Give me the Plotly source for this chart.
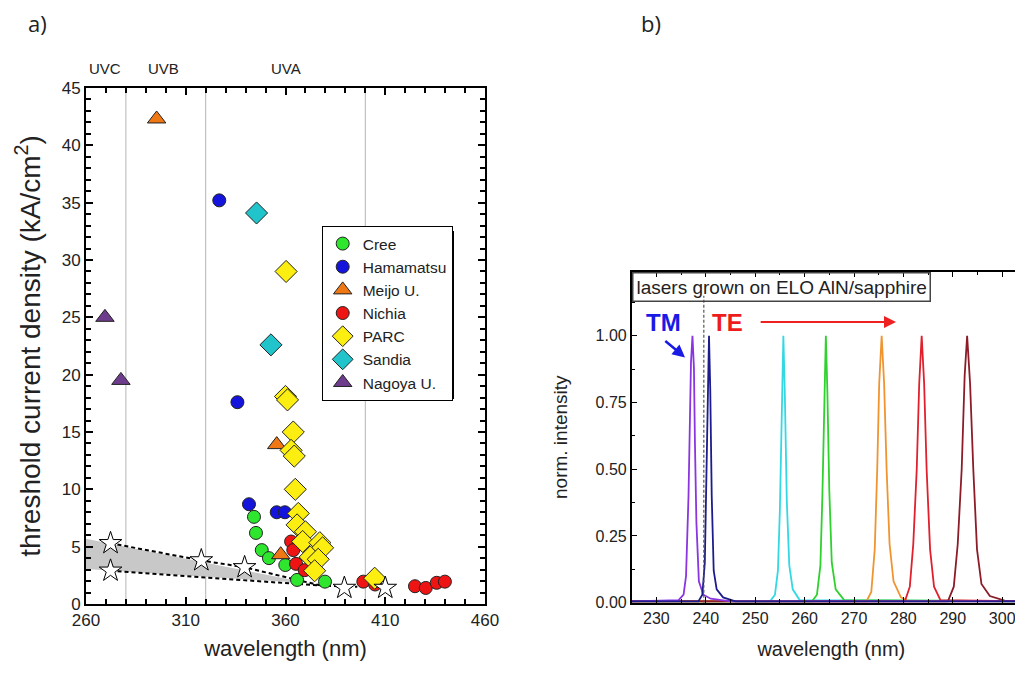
import plotly.graph_objects as go

FIG_W, FIG_H = 1023, 675
PAGE_PAD = 8  # the html body margin offsets the figure on the page
FONT = 'Liberation Sans, Arial, sans-serif'

# ---------------- panel a) threshold current density vs wavelength ----------------
cree_wl = [344.2, 345.2, 348.1, 351.7, 359.9, 365.8, 379.8]
cree_j = [7.6, 6.2, 4.7, 4.0, 3.4, 2.1, 1.95]

hamamatsu_wl = [326.8, 335.9, 341.7, 355.6, 359.7]
hamamatsu_j = [35.2, 17.6, 8.7, 8.0, 8.0]

meijo_wl = [295.4, 355.6, 357.6]
meijo_j = [42.3, 13.9, 4.3]

nichia_wl = [362.8, 363.9, 365.3, 369.6, 399.0, 404.9, 424.9, 430.3, 435.8, 439.9]
nichia_j = [5.45, 4.7, 3.5, 2.95, 1.95, 1.7, 1.55, 1.4, 1.85, 1.95]

parc_wl = [360.3, 360.0, 361.0, 363.9, 362.8, 364.4, 364.9, 366.4, 365.8, 370.0,
           368.6, 377.2, 378.6, 372.4, 376.4, 374.6, 404.7]
parc_j = [29.0, 18.1, 17.8, 15.0, 13.4, 12.9, 10.0, 7.9, 6.9, 6.3,
          5.45, 5.35, 4.9, 4.1, 3.9, 2.9, 2.25]

sandia_wl = [345.5, 352.7]
sandia_j = [34.1, 22.6]

nagoya_wl = [269.5, 277.5]
nagoya_j = [25.0, 19.5]

star_wl = [272.3, 272.3, 317.8, 339.5, 389.5, 410.0]
star_j = [5.3, 2.9, 3.8, 3.2, 1.4, 1.4]

trend_hi_wl = [272.3, 317.8, 339.5, 378.0]
trend_hi_j = [5.3, 3.8, 3.2, 1.6]
trend_lo_wl = [272.3, 378.0, 396.0]
trend_lo_j = [2.9, 1.6, 1.5]

band_wl = [260, 372, 260]
band_j = [5.7, 1.8, 3.05]

uv_edges = [280, 320, 400]
uv_names = ['UVC', 'UVB', 'UVA']
uv_label_wl = [269.3, 299.0, 360.0]

groups = [
    ('Cree', cree_wl, cree_j, 'circle', '#2ee62e', 13),
    ('Hamamatsu', hamamatsu_wl, hamamatsu_j, 'circle', '#1414dc', 13),
    ('Meijo U.', meijo_wl, meijo_j, 'triangle-up', '#f07814', 16),
    ('Nichia', nichia_wl, nichia_j, 'circle', '#ee1414', 13),
    ('PARC', parc_wl, parc_j, 'diamond', '#fbee10', 17),
    ('Sandia', sandia_wl, sandia_j, 'diamond', '#22c4cc', 17),
    ('Nagoya U.', nagoya_wl, nagoya_j, 'triangle-up', '#6e3c8c', 16),
]

# ---------------- panel b) normalised laser spectra ----------------
tm_wl = [225, 234.5, 235.5, 236.0, 236.5, 236.8, 237.0, 237.3, 237.6, 237.8, 238.1, 238.6, 239.5, 241, 245, 306]
tm_int = [0.005, 0.01, 0.03, 0.1, 0.4, 0.7, 0.9, 1.0, 0.88, 0.6, 0.3, 0.08, 0.03, 0.015, 0.005, 0.005]

te240_wl = [225, 238.5, 239.3, 239.8, 240.2, 240.5, 240.65, 240.9, 241.2, 241.6, 242.2, 243.5, 246, 306]
te240_int = [0.005, 0.005, 0.03, 0.15, 0.55, 0.9, 1.0, 0.8, 0.4, 0.12, 0.05, 0.02, 0.005, 0.005]

te256_wl = [225, 253.0, 254.0, 254.6, 255.0, 255.4, 255.7, 256.0, 256.4, 256.9, 257.6, 259, 306]
te256_int = [0.005, 0.005, 0.03, 0.12, 0.35, 0.75, 1.0, 0.78, 0.38, 0.14, 0.05, 0.01, 0.005]

te264_wl = [225, 261.5, 262.5, 263.2, 263.6, 264.0, 264.3, 264.6, 265.0, 265.5, 266.3, 268, 306]
te264_int = [0.005, 0.005, 0.03, 0.14, 0.4, 0.78, 1.0, 0.8, 0.42, 0.15, 0.05, 0.01, 0.005]

te276_wl = [225, 272.5, 273.5, 274.2, 274.7, 275.1, 275.6, 276.1, 276.6, 277.2, 278.0, 279.5, 281, 306]
te276_int = [0.005, 0.005, 0.04, 0.2, 0.5, 0.82, 1.0, 0.82, 0.5, 0.22, 0.08, 0.02, 0.005, 0.005]

te284_wl = [225, 280.3, 281.3, 282.0, 282.7, 283.2, 283.7, 284.2, 284.7, 285.4, 286.2, 287.5, 306]
te284_int = [0.005, 0.005, 0.06, 0.22, 0.5, 0.82, 1.0, 0.82, 0.5, 0.2, 0.06, 0.01, 0.005]

te293_wl = [225, 289, 290.2, 291.0, 291.8, 292.4, 292.9, 293.5, 294.15, 294.9, 295.8, 297.5, 300.5, 306]
te293_int = [0.005, 0.005, 0.06, 0.22, 0.5, 0.85, 1.0, 0.82, 0.5, 0.2, 0.07, 0.025, 0.008, 0.005]

spectra = [
    (te256_wl, te256_int, '#33d8e4'),
    (te264_wl, te264_int, '#2ed12e'),
    (te276_wl, te276_int, '#f09430'),
    (te284_wl, te284_int, '#e0202c'),
    (te293_wl, te293_int, '#8c1c28'),
    (tm_wl, tm_int, '#8a35e0'),
    (te240_wl, te240_int, '#1c1c8c'),
]

tm_te_wl = [239.6, 239.6]
tm_te_int = [0.0, 1.15]

# ---------------- figure ----------------
fig = go.Figure()

fig.add_trace(go.Scatter(
    x=band_wl, y=band_j, fill='toself', fillcolor='#c8c8c8',
    line=dict(width=0), mode='lines', showlegend=False, hoverinfo='skip',
))
for xs, ys in [(trend_hi_wl, trend_hi_j), (trend_lo_wl, trend_lo_j)]:
    fig.add_trace(go.Scatter(
        x=xs, y=ys, mode='lines', showlegend=False,
        line=dict(color='black', width=2, dash='4px,3px'),
    ))

for name, xs, ys, sym, col, size in groups:
    fig.add_trace(go.Scatter(
        x=xs, y=ys, mode='markers', name=name,
        marker=dict(symbol=sym, color=col, size=size,
                    line=dict(color='#222', width=1)),
    ))

fig.add_trace(go.Scatter(
    x=star_wl, y=star_j, mode='markers', showlegend=False,
    marker=dict(symbol='star', color='white', size=17,
                line=dict(color='black', width=1)),
))

for xs, ys, col in spectra:
    fig.add_trace(go.Scatter(
        x=xs, y=ys, mode='lines', showlegend=False, xaxis='x2', yaxis='y2',
        line=dict(color=col, width=1.8),
    ))
fig.add_trace(go.Scatter(
    x=tm_te_wl, y=tm_te_int, mode='lines', showlegend=False, xaxis='x2', yaxis='y2',
    line=dict(color='#555', width=1.2, dash='3px,2px'),
))

for e in uv_edges:
    fig.add_vline(x=e, line_color='#b4b4b4', line_width=1, layer='below')

axis_common = dict(
    showgrid=False, zeroline=False, showline=True, linecolor='black',
    ticks='inside', tickcolor='black', mirror='ticks', automargin=False,
)

# screen pixel -> paper fraction
px_x = lambda p: (p - PAGE_PAD) / FIG_W
px_y = lambda p: (FIG_H - (p - PAGE_PAD)) / FIG_H

fig.update_layout(
    width=FIG_W, height=FIG_H,
    margin=dict(l=0, r=0, t=0, b=0, autoexpand=False),
    paper_bgcolor='white', plot_bgcolor='white',
    font=dict(family=FONT, color='#222'),
    xaxis=dict(
        domain=[px_x(86), px_x(485)], range=[260, 460], tick0=260, dtick=50,
        ticklen=7, tickwidth=1.5, linewidth=2,
        minor=dict(dtick=10, ticklen=5, tickwidth=1.5, ticks='inside', tickcolor='black'),
        tickfont=dict(size=17),
        title=dict(text='wavelength (nm)', font=dict(size=22), standoff=11),
        anchor='y', **axis_common,
    ),
    yaxis=dict(
        domain=[px_y(604), px_y(88)], range=[0, 45], dtick=5,
        ticklen=7, tickwidth=1.5, linewidth=2,
        minor=dict(dtick=1, ticklen=5, tickwidth=1.5, ticks='inside', tickcolor='black'),
        tickfont=dict(size=17),
        title=dict(text='threshold current density (kA/cm<sup>2</sup>)', font=dict(size=28), standoff=13),
        anchor='x', **axis_common,
    ),
    xaxis2=dict(
        domain=[px_x(631.7), 1.0], range=[225, 225 + (FIG_W + PAGE_PAD - 631.7) / 4.94],
        tick0=230, dtick=10,
        ticklen=6, tickwidth=1.2, linewidth=1.5,
        minor=dict(dtick=5, ticklen=4, tickwidth=1, ticks='inside', tickcolor='black'),
        tickfont=dict(size=16),
        title=dict(text='wavelength (nm)', font=dict(size=20), standoff=16),
        anchor='y2', **axis_common,
    ),
    yaxis2=dict(
        domain=[px_y(602.7), px_y(271.7)], range=[0, 1.24], dtick=0.25, tickformat='.2f',
        ticklen=6, tickwidth=1.2, linewidth=1.5,
        minor=dict(dtick=0.125, ticklen=4, tickwidth=1, ticks='inside', tickcolor='black'),
        tickfont=dict(size=16),
        title=dict(text='norm. intensity', font=dict(size=19), standoff=23),
        anchor='x2', **axis_common,
    ),
    legend=dict(
        x=px_x(321.7), y=px_y(226), xanchor='left', yanchor='top',
        bgcolor='white', bordercolor='black', borderwidth=1,
        font=dict(size=15.5, color='#222'), tracegroupgap=0,
    ),
)

# legend drop shadow
fig.add_shape(type='rect', xref='paper', yref='paper',
              x0=px_x(327), x1=px_x(454), y0=px_y(399), y1=px_y(231),
              fillcolor='black', line=dict(width=0), layer='above')

for name, wl in zip(uv_names, uv_label_wl):
    fig.add_annotation(x=wl, xref='x', y=px_y(69), yref='paper', text=name,
                       xanchor='center', yanchor='middle',
                       showarrow=False, font=dict(size=15, color='#222'))

for lbl, xc in [('a)', 37), ('b)', 651)]:
    fig.add_annotation(x=px_x(xc), y=px_y(23), xref='paper', yref='paper', text=lbl,
                       xanchor='center', yanchor='middle', showarrow=False,
                       font=dict(family='Open Sans, sans-serif', size=22, color='#222'))

fig.add_annotation(x=px_x(631.7), y=px_y(271.7), xref='paper', yref='paper',
                   xanchor='left', yanchor='top', text='lasers grown on ELO AlN/sapphire',
                   showarrow=False, font=dict(size=19, color='#222'),
                   bordercolor='#444', borderwidth=1.5, borderpad=3)

fig.add_annotation(x=231.4, y=1.048, xref='x2', yref='y2', text='<b>TM</b>',
                   showarrow=False, font=dict(size=24, color='#1a1ae6'))
fig.add_annotation(x=244.3, y=1.048, xref='x2', yref='y2', text='<b>TE</b>',
                   showarrow=False, font=dict(size=24, color='#ee1c1c'))
fig.add_annotation(x=278.5, y=1.052, ax=250.8, ay=1.052, xref='x2', yref='y2',
                   axref='x2', ayref='y2', text='', showarrow=True,
                   arrowhead=2, arrowsize=1.2, arrowwidth=2, arrowcolor='#ee2020')
fig.add_annotation(x=235.8, y=0.919, ax=231.5, ay=0.985, xref='x2', yref='y2',
                   axref='x2', ayref='y2', text='', showarrow=True,
                   arrowhead=2, arrowsize=1, arrowwidth=2.5, arrowcolor='#1a1ae6')

fig.write_html('out.html')
